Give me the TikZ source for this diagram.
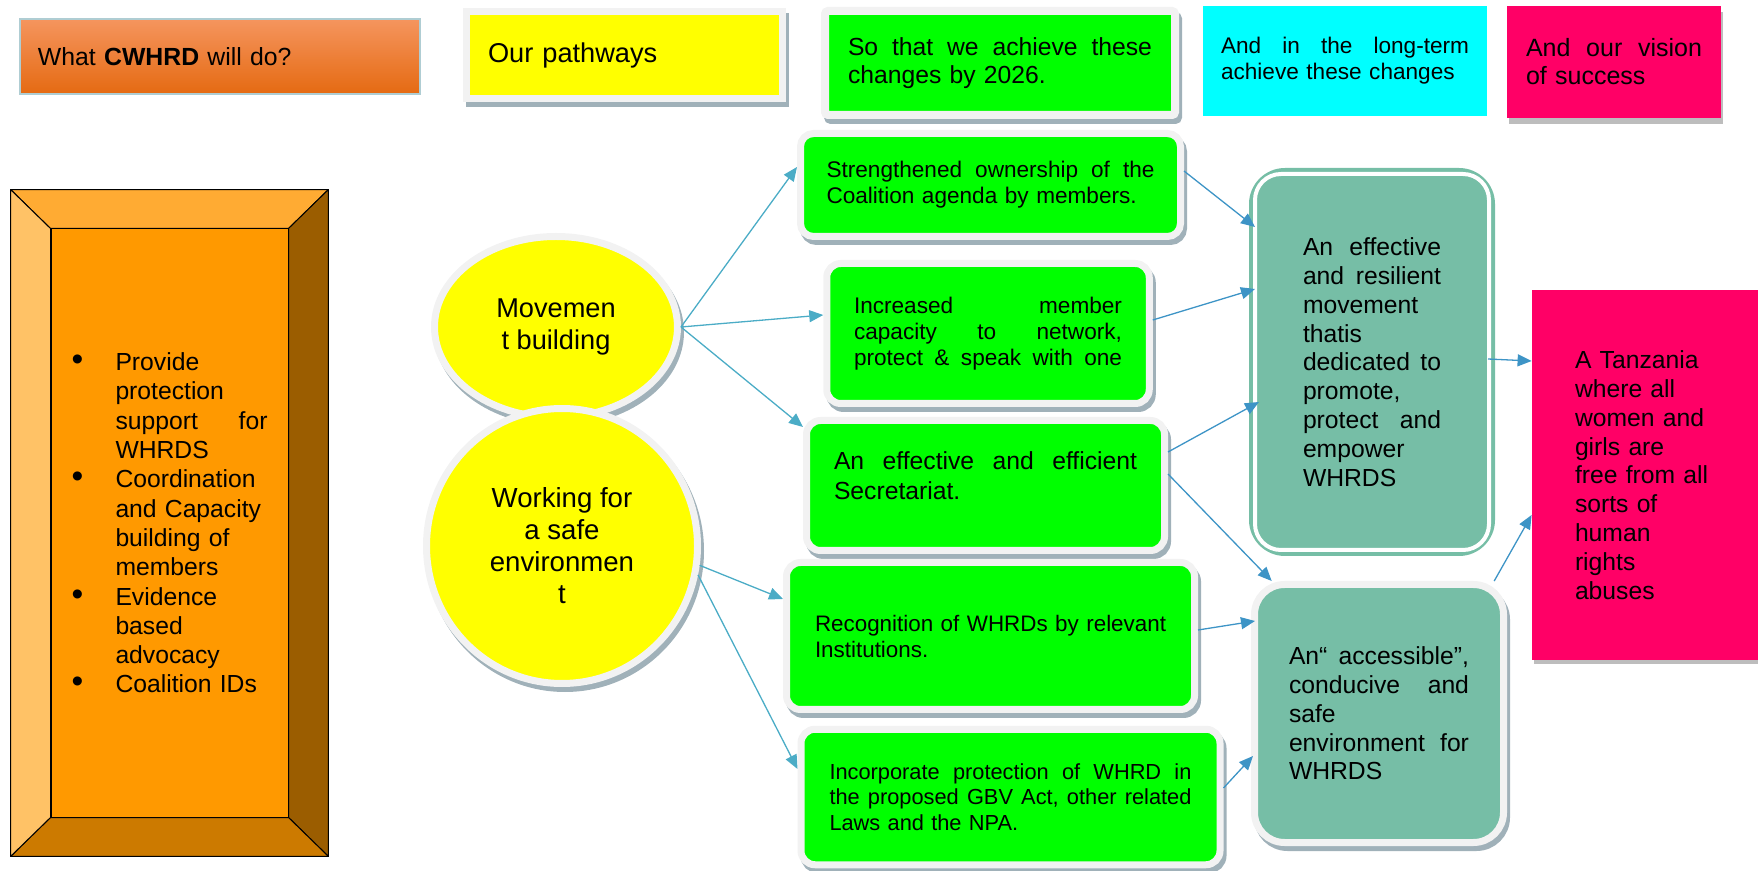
\documentclass[tikz,border=0pt]{standalone}
\usepackage{fontspec}
\setmainfont{Liberation Sans}
\usetikzlibrary{shapes.geometric,arrows.meta,calc}
\definecolor{yellowc}{HTML}{FFFF00}
\definecolor{greenc}{HTML}{00FF00}
\definecolor{cyanc}{HTML}{00FFFF}
\definecolor{pinkc}{HTML}{FF0066}
\definecolor{tealc}{HTML}{76BEA6}
\definecolor{frameg}{HTML}{F2F2F2}
\definecolor{shadowc}{HTML}{A0B1B9}
\definecolor{grayshadow}{HTML}{BDBDBD}
\definecolor{arrA}{HTML}{4BACC6}
\definecolor{arrB}{HTML}{3D94C6}
\definecolor{cwtop}{HTML}{F5955E}
\definecolor{cwbot}{HTML}{E56A12}
\definecolor{cwline}{HTML}{AFCDD3}
\definecolor{orC}{HTML}{FF9900}
\definecolor{orTop}{HTML}{FFAB33}
\definecolor{orLeft}{HTML}{FFC266}
\definecolor{orRight}{HTML}{9B5D00}
\definecolor{orBottom}{HTML}{CC7A00}
\newcommand\myfs[2]{\fontsize{#1}{#2}\selectfont}
\newcommand\mybul{\makebox[22pt][l]{\scalebox{1.35}{\textbullet}}}
\tikzset{
  boxshadow/.style={preaction={draw=shadowc, fill=shadowc, transform canvas={xshift=1.5pt,yshift=-2.5pt}}},
  framebox/.style={rectangle, draw=frameg, line width=3.5pt, boxshadow, inner sep=0pt, align=left},
  greenbox/.style={framebox, fill=greenc, rounded corners=6.5pt},
  plainbox/.style={rectangle, inner sep=0pt, align=left},
  bubble/.style={ellipse, draw=frameg, line width=3.5pt, fill=yellowc, inner sep=0pt, align=center, boxshadow},
  arrowA/.style={draw=arrA, line width=0.65pt, -{Triangle[length=7pt,width=6pt]}, arrA},
  arrowB/.style={draw=arrB, line width=0.65pt, -{Triangle[length=7pt,width=6pt]}, arrB},
  bevel/.style={draw=black, line width=0.5pt, line join=round},
}
\begin{document}
\begin{tikzpicture}[x=0.5pt,y=-0.5pt]
\useasboundingbox (0,0) rectangle (1758,871);

% ---- top row
\node[plainbox, minimum width=200pt, minimum height=37.5pt, top color=cwtop, bottom color=cwbot,
      draw=cwline, line width=0.6pt, text width=182pt, font=\myfs{12.4pt}{14pt}] (cw) at (220,56.5)
      {What \textbf{CWHRD} will do?};
\node[framebox, fill=yellowc, minimum width=158pt, minimum height=43.5pt, text width=136.5pt,
      font=\myfs{13.6pt}{15pt}] (pw) at (624.5,55) {Our pathways};
\node[framebox, fill=greenc, line width=4pt, rounded corners=1.5pt, minimum width=175pt, minimum height=52pt,
      text width=152pt, font=\myfs{12.35pt}{14pt}] (st) at (1000,63)
      {So\hfill that\hfill we\hfill achieve\hfill these\\changes by 2026.};
\node[plainbox, fill=cyanc, minimum width=142pt, minimum height=55pt, text width=124pt,
      font=\myfs{11.3pt}{13pt}] (lt) at (1345,61)
      {And\hfill in\hfill the\hfill long-term\\achieve these changes};
\node[plainbox, fill=pinkc, preaction={fill=grayshadow, transform canvas={xshift=1pt,yshift=-3pt}},
      minimum width=107pt, minimum height=56pt, text width=88pt, font=\myfs{12.5pt}{14pt}] (vs) at (1614,62)
      {And\hfill our\hfill vision\\of success};

% ---- left bevelled box
\node[plainbox, minimum width=158.5pt, minimum height=333pt] (doframe) at (169.5,523) {};
\node[plainbox, fill=orC, draw=black, line width=0.5pt, minimum width=118.5pt, minimum height=294pt,
      text width=98pt, font=\myfs{12.35pt}{14.65pt}] (do) at (169.5,523)
{\mybul Provide\\
\hspace*{22pt}protection\\
\hspace*{22pt}support\hfill for\\
\hspace*{22pt}WHRDS\\
\mybul Coordination\\
\hspace*{22pt}and Capacity\\
\hspace*{22pt}building of\\
\hspace*{22pt}members\\
\mybul Evidence\\
\hspace*{22pt}based\\
\hspace*{22pt}advocacy\\
\mybul Coalition IDs};
\fill[orTop, bevel] (doframe.north west) -- (doframe.north east) -- (do.north east) -- (do.north west) -- cycle;
\fill[orRight, bevel] (doframe.north east) -- (doframe.south east) -- (do.south east) -- (do.north east) -- cycle;
\fill[orBottom, bevel] (doframe.south east) -- (doframe.south west) -- (do.south west) -- (do.south east) -- cycle;
\fill[orLeft, bevel] (doframe.south west) -- (doframe.north west) -- (do.north west) -- (do.south west) -- cycle;

% ---- pathway bubbles
\node[bubble, minimum width=121.5pt, minimum height=90.5pt, font=\myfs{13.6pt}{15.8pt}] (mov) at (556,327)
      {Movemen\\t building};
\node[bubble, minimum width=135.5pt, minimum height=137.5pt, font=\myfs{13.8pt}{16pt}] (work) at (562,546)
      {Working for\\a safe\\environmen\\t};

% ---- 2026 changes
\node[greenbox, minimum width=190pt, minimum height=51.5pt, text width=164pt, font=\myfs{11.3pt}{13pt}] (str) at (990.5,185)
      {Strengthened\hfill ownership\hfill of\hfill the\\Coalition agenda by members.};
\node[greenbox, rounded corners=7pt, minimum width=161.25pt, minimum height=70pt, text width=134pt, font=\myfs{11.3pt}{13pt}] (inc) at (988,333.5)
      {Increased\hfill member\\capacity\hfill to\hfill network,\\protect\hfill \&\hfill speak\hfill with\hfill one};
\node[greenbox, rounded corners=7pt, minimum width=179pt, minimum height=65pt, text width=151.5pt, font=\myfs{12.35pt}{14.6pt}] (sec) at (985.5,485.5)
      {An\hfill effective\hfill and\hfill efficient\\Secretariat.\rule[-10pt]{0pt}{0pt}};
\node[greenbox, rounded corners=7pt, minimum width=204pt, minimum height=73.5pt, text width=175.5pt, font=\myfs{11.2pt}{13pt}] (rec) at (990.5,636)
      {\mbox{Recognition of WHRDs by relevant}\\Institutions.};
\node[greenbox, rounded corners=7pt, minimum width=209.5pt, minimum height=67.75pt, text width=181pt, font=\myfs{10.9pt}{12.75pt}] (gbv) at (1010.5,797)
      {Incorporate\hfill protection\hfill of\hfill WHRD\hfill in\\the\hfill proposed\hfill GBV\hfill Act,\hfill other\hfill related\\Laws and the NPA.};

% ---- long-term changes
\node[plainbox, fill=tealc, draw=tealc, line width=4pt, rounded corners=16pt, minimum width=119pt, minimum height=190pt,
      text width=69pt, font=\myfs{12.35pt}{14.4pt}] (t1) at (1372,362)
      {An\hfill effective\\and\hfill resilient\\movement\\thatis\\dedicated\hfill to\\promote,\\protect\hfill and\\empower\\WHRDS};
\draw[white, line width=2pt, rounded corners=13pt] ([shift={(6,6)}]t1.north west) rectangle ([shift={(-6,-6)}]t1.south east);
\node[framebox, fill=tealc, rounded corners=15pt, minimum width=124.5pt, minimum height=129pt,
      text width=90pt, font=\myfs{12.35pt}{14.4pt}] (t2) at (1379,713.5)
      {An“\hfill accessible”,\\conducive\hfill and\\safe\\environment\hfill for\\WHRDS};

% ---- vision
\node[plainbox, fill=pinkc, preaction={fill=grayshadow, transform canvas={xshift=1pt,yshift=-2pt}},
      minimum width=113pt, minimum height=185pt, text width=70pt, font=\myfs{12.35pt}{14.4pt}] (pk) at (1645,475)
      {\mbox{A Tanzania}\\\mbox{where all}\\\mbox{women and}\\\mbox{girls are}\\\mbox{free from all}\\\mbox{sorts of}\\human\\rights\\abuses};

% ---- connectors
\draw[arrowA] (mov.east) -- (str.west |- 0,167);
\draw[arrowA] (mov.east) -- (inc.west |- 0,315);
\draw[arrowA] (mov.east) -- (sec.west |- 0,427);
\draw[arrowA] (work.-8) -- (rec.west |- 0,599);
\draw[arrowA] (work.-12) -- (gbv.west |- 0,769);

\draw[arrowB] (str.east |- 0,171) -- ($(t1.west |- 0,227)+(6,0)$);
\draw[arrowB] (inc.east |- 0,320) -- ($(t1.west |- 0,289)+(6,0)$);
\draw[arrowB] (sec.east |- 0,452) -- ($(t1.west |- 0,402)+(10,0)$);
\draw[arrowB] (sec.east |- 0,474) -- (t2.129.5);
\draw[arrowB] (rec.east |- 0,630) -- ($(t2.west |- 0,621)+(4,0)$);
\draw[arrowB] (gbv.east |- 0,788) -- ($(t2.west |- 0,756)+(2,0)$);
\draw[arrowB] ($(t1.east |- 0,359)+(-7,0)$) -- (pk.west |- 0,361);
\draw[arrowB] (t2.49) -- (pk.west |- 0,515);
\end{tikzpicture}
\end{document}
